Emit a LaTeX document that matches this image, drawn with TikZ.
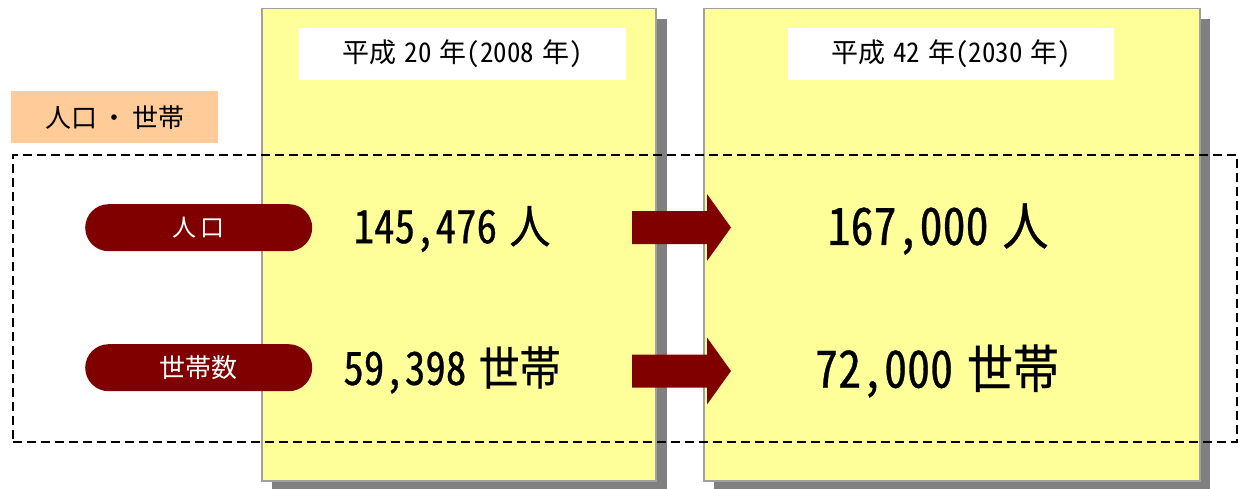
\documentclass[tikz,border=0pt]{standalone}
\usepackage{fontspec}
\newfontfamily\jp[RawFeature=+hwid]{Noto Sans CJK JP}
\newfontfamily\jpb[RawFeature=+hwid,FakeBold=0.6]{Noto Sans CJK JP}
\definecolor{panelyellow}{HTML}{FFFF99}
\definecolor{shadowgray}{HTML}{808080}
\definecolor{bordergray}{HTML}{A0A0A0}
\definecolor{darkred}{HTML}{800000}
\definecolor{peach}{HTML}{FFCC99}
\newcommand{\tallA}[1]{\scalebox{1}[1.12]{#1}}
\newcommand{\gp}{\hspace{0.3em}}
\begin{document}
\begin{tikzpicture}[x=1pt,y=-1pt,
  panel/.style={fill=panelyellow,draw=bordergray,line width=1.5pt},
  header/.style={fill=white,draw=none,inner sep=0pt,font=\jp\fontsize{27}{32}\selectfont},
  pill/.style={fill=darkred,draw=none,rounded corners=23.5pt,inner sep=0pt,text=white,font=\jp\fontsize{24}{28}\selectfont},
  valueA/.style={font=\jpb\fontsize{41}{46}\selectfont,inner sep=0pt},
  valueB/.style={font=\jpb\fontsize{46}{52}\selectfont,inner sep=0pt},
  blockarrow/.style={fill=darkred,draw=none}]
\useasboundingbox (0,0) rectangle (1238,489);
% shadows
\fill[shadowgray] (272,19) rectangle (667,489);
\fill[shadowgray] (714,19) rectangle (1210,489);
% panels
\node[panel,minimum width=394pt,minimum height=472pt,anchor=north west,inner sep=0pt] (p1) at (261,8) {};
\node[panel,minimum width=496pt,minimum height=472pt,anchor=north west,inner sep=0pt] (p2) at (703,8) {};
% headers
\node[header,minimum width=327pt,minimum height=52pt,anchor=north west] (h1) at (299,28) {平成\gp 20\gp 年(2008\gp 年)};
\node[header,minimum width=326pt,minimum height=52pt,anchor=north west] (h2) at (788,28) {平成\gp 42\gp 年(2030\gp 年)};
% label
\node[fill=peach,minimum width=207pt,minimum height=52pt,anchor=north west,inner sep=0pt,font=\jp\fontsize{26}{30}\selectfont] (lab) at (11,91) {人口\,・\,世帯};
% dashed frame
\node[draw=black,dash pattern=on 9pt off 5pt,line width=2pt,minimum width=1224pt,minimum height=287pt,anchor=north west,inner sep=0pt] (frame) at (12,154) {};
% pills
\node[pill,minimum width=227pt,minimum height=47pt,anchor=north west] (pop) at (85,204) {人\hspace{4pt}口};
\node[pill,minimum width=227pt,minimum height=47pt,anchor=north west,font=\jp\fontsize{26}{30}\selectfont] (hh) at (85,344) {世帯数};
% values
\node[valueA] (v1) at (452,229) {\tallA{145,476\gp 人}};
\node[valueA] (v2) at (452,370) {\tallA{59,398\gp 世帯}};
\node[valueB] (v3) at (938,229) {\tallA{167,000\gp 人}};
\node[valueB] (v4) at (937,371) {\tallA{72,000\gp 世帯}};
% block arrows
\coordinate (a1) at (632,227.5);
\coordinate (a2) at (632,371);
\fill[blockarrow] (a1) ++(0,-16.5) -- ++(75,0) -- ++(0,-17) -- (731,227.5) -- (707,261) -- ++(0,-17) -- ++(-75,0) -- cycle;
\fill[blockarrow] (a2) ++(0,-16.5) -- ++(75,0) -- ++(0,-17) -- (731,371) -- (707,404.5) -- ++(0,-17) -- ++(-75,0) -- cycle;
\end{tikzpicture}
\end{document}
